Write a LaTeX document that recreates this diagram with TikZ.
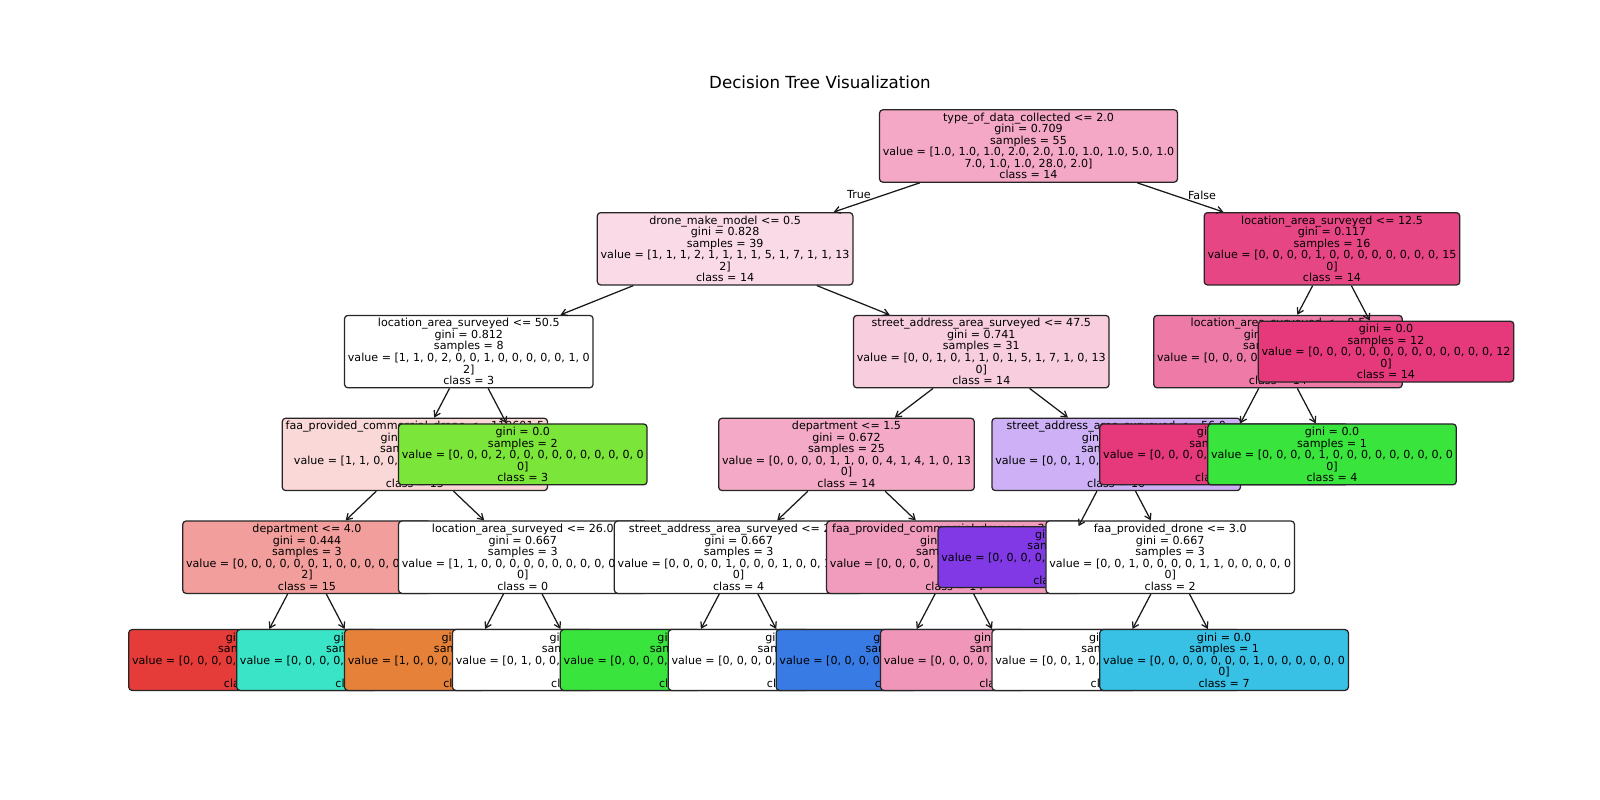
\documentclass[tikz,border=0pt]{standalone}
\usepackage{fontspec}
\setmainfont{DejaVu Sans}
\usetikzlibrary{arrows.meta}

\definecolor{cRoot}{HTML}{F4A8C5}
\definecolor{cDrone}{HTML}{FADAE6}
\definecolor{cLocA}{HTML}{E74684}
\definecolor{cStreetA}{HTML}{F8CDDE}
\definecolor{cLocB}{HTML}{EE7BA7}
\definecolor{cFourteen}{HTML}{E5397B}
\definecolor{cFaaA}{HTML}{FAD8D7}
\definecolor{cThree}{HTML}{7BE539}
\definecolor{cDeptA}{HTML}{F4AAC6}
\definecolor{cStreetB}{HTML}{CDB0F5}
\definecolor{cFour}{HTML}{39E53C}
\definecolor{cDeptB}{HTML}{F29E9C}
\definecolor{cFaaB}{HTML}{F29CBD}
\definecolor{cTen}{HTML}{8139E5}
\definecolor{cFifteen}{HTML}{E53C39}
\definecolor{cSix}{HTML}{39E5C6}
\definecolor{cZero}{HTML}{E58139}
\definecolor{cEight}{HTML}{397BE5}
\definecolor{cPink}{HTML}{F096B8}
\definecolor{cSeven}{HTML}{39C0E5}

\begin{document}
\begin{tikzpicture}[x=0.72pt, y=-0.72pt,
    treenode/.style={draw=black!85, line width=0.9pt, rounded corners=2.4pt, align=center,
      inner xsep=2.4pt, inner ysep=2.2pt, font=\fontsize{8}{8.3}\selectfont},
    edge/.style={line width=0.9pt, black!90, -{Straight Barb[length=4pt,width=5pt]}},
    every node/.style={font=\fontsize{8}{8.3}\selectfont}]
  \useasboundingbox (0,0) rectangle (1600,800);

  % Title
  \node[font=\fontsize{12}{14}\selectfont] (title) at (820,82) {Decision Tree Visualization};

  % Nodes
  \node[treenode, fill=cRoot] (root) at (1028.5,146) {type\_of\_data\_collected <= 2.0\\gini = 0.709\\samples = 55\\value = [1.0, 1.0, 1.0, 2.0, 2.0, 1.0, 1.0, 1.0, 5.0, 1.0\\7.0, 1.0, 1.0, 28.0, 2.0]\\class = 14};
  \node[treenode, fill=cDrone] (drone) at (725.1,248.8) {drone\_make\_model <= 0.5\\gini = 0.828\\samples = 39\\value = [1, 1, 1, 2, 1, 1, 1, 1, 5, 1, 7, 1, 1, 13\\2]\\class = 14};
  \node[treenode, fill=white] (locC) at (468.8,351.6) {location\_area\_surveyed <= 50.5\\gini = 0.812\\samples = 8\\value = [1, 1, 0, 2, 0, 0, 1, 0, 0, 0, 0, 0, 1, 0\\2]\\class = 3};
  \node[treenode, fill=cFaaA] (faaA) at (414.9,454.4) {faa\_provided\_commercial\_drone <= 119601.5\\gini = 0.778\\samples = 6\\value = [1, 1, 0, 0, 0, 0, 1, 0, 0, 0, 0, 0, 1, 0\\2]\\class = 15};
  \node[treenode, fill=cDeptB] (deptB) at (307,557.2) {department <= 4.0\\gini = 0.444\\samples = 3\\value = [0, 0, 0, 0, 0, 0, 1, 0, 0, 0, 0, 0, 0, 0\\2]\\class = 15};
  \node[treenode, fill=cFifteen] (leafA) at (253,660) {gini = 0.0\\samples = 2\\value = [0, 0, 0, 0, 0, 0, 0, 0, 0, 0, 0, 0, 0, 0\\2]\\class = 15};
  \node[treenode, fill=cSix] (leafB) at (360.9,660) {gini = 0.0\\samples = 1\\value = [0, 0, 0, 0, 0, 0, 1, 0, 0, 0, 0, 0, 0, 0\\0]\\class = 6};
  \node[treenode, fill=white] (locD) at (522.8,557.2) {location\_area\_surveyed <= 26.0\\gini = 0.667\\samples = 3\\value = [1, 1, 0, 0, 0, 0, 0, 0, 0, 0, 0, 0, 1, 0\\0]\\class = 0};
  \node[treenode, fill=cZero] (leafC) at (468.8,660) {gini = 0.0\\samples = 1\\value = [1, 0, 0, 0, 0, 0, 0, 0, 0, 0, 0, 0, 0, 0\\0]\\class = 0};
  \node[treenode, fill=white] (leafD) at (576.7,660) {gini = 0.5\\samples = 2\\value = [0, 1, 0, 0, 0, 0, 0, 0, 0, 0, 0, 0, 1, 0\\0]\\class = 1};
  \node[treenode, fill=cThree] (pureA) at (522.8,454.4) {gini = 0.0\\samples = 2\\value = [0, 0, 0, 2, 0, 0, 0, 0, 0, 0, 0, 0, 0, 0\\0]\\class = 3};
  \node[treenode, fill=cStreetA] (streetA) at (981.3,351.6) {street\_address\_area\_surveyed <= 47.5\\gini = 0.741\\samples = 31\\value = [0, 0, 1, 0, 1, 1, 0, 1, 5, 1, 7, 1, 0, 13\\0]\\class = 14};
  \node[treenode, fill=cDeptA] (deptA) at (846.5,454.4) {department <= 1.5\\gini = 0.672\\samples = 25\\value = [0, 0, 0, 0, 1, 1, 0, 0, 4, 1, 4, 1, 0, 13\\0]\\class = 14};
  \node[treenode, fill=white] (streetC) at (738.6,557.2) {street\_address\_area\_surveyed <= 25.5\\gini = 0.667\\samples = 3\\value = [0, 0, 0, 0, 1, 0, 0, 0, 1, 0, 0, 1, 0, 0\\0]\\class = 4};
  \node[treenode, fill=cFour] (leafE) at (684.6,660) {gini = 0.0\\samples = 1\\value = [0, 0, 0, 0, 1, 0, 0, 0, 0, 0, 0, 0, 0, 0\\0]\\class = 4};
  \node[treenode, fill=white] (leafF) at (792.5,660) {gini = 0.5\\samples = 2\\value = [0, 0, 0, 0, 0, 0, 0, 0, 1, 0, 0, 1, 0, 0\\0]\\class = 8};
  \node[treenode, fill=cFaaB] (faaB) at (954.4,557.2) {faa\_provided\_commercial\_drone <= 3361.5\\gini = 0.595\\samples = 22\\value = [0, 0, 0, 0, 0, 1, 0, 0, 3, 1, 4, 0, 0, 13\\0]\\class = 14};
  \node[treenode, fill=cEight] (leafG) at (900.4,660) {gini = 0.0\\samples = 3\\value = [0, 0, 0, 0, 0, 0, 0, 0, 3, 0, 0, 0, 0, 0\\0]\\class = 8};
  \node[treenode, fill=cPink] (leafH) at (1008.3,660) {gini = 0.482\\samples = 19\\value = [0, 0, 0, 0, 0, 1, 0, 0, 0, 1, 4, 0, 0, 13\\0]\\class = 14};
  \node[treenode, fill=cStreetB] (streetB) at (1116.2,454.4) {street\_address\_area\_surveyed <= 56.0\\gini = 0.667\\samples = 6\\value = [0, 0, 1, 0, 0, 0, 0, 1, 1, 0, 3, 0, 0, 0\\0]\\class = 10};
  \node[treenode, fill=cTen] (pureB) at (1062.3,557.2) {gini = 0.0\\samples = 3\\value = [0, 0, 0, 0, 0, 0, 0, 0, 0, 0, 3, 0, 0, 0\\0]\\class = 10};
  \node[treenode, fill=white] (faaC) at (1170.2,557.2) {faa\_provided\_drone <= 3.0\\gini = 0.667\\samples = 3\\value = [0, 0, 1, 0, 0, 0, 0, 1, 1, 0, 0, 0, 0, 0\\0]\\class = 2};
  \node[treenode, fill=white] (leafI) at (1116.2,660) {gini = 0.5\\samples = 2\\value = [0, 0, 1, 0, 0, 0, 0, 0, 1, 0, 0, 0, 0, 0\\0]\\class = 2};
  \node[treenode, fill=cSeven] (leafJ) at (1224.1,660) {gini = 0.0\\samples = 1\\value = [0, 0, 0, 0, 0, 0, 0, 1, 0, 0, 0, 0, 0, 0\\0]\\class = 7};
  \node[treenode, fill=cLocA] (locA) at (1332,248.8) {location\_area\_surveyed <= 12.5\\gini = 0.117\\samples = 16\\value = [0, 0, 0, 0, 1, 0, 0, 0, 0, 0, 0, 0, 0, 15\\0]\\class = 14};
  \node[treenode, fill=cLocB] (locB) at (1278,351.6) {location\_area\_surveyed <= 9.5\\gini = 0.375\\samples = 4\\value = [0, 0, 0, 0, 1, 0, 0, 0, 0, 0, 0, 0, 0, 3\\0]\\class = 14};
  \node[treenode, fill=cFourteen] (pureC) at (1224.1,454.4) {gini = 0.0\\samples = 3\\value = [0, 0, 0, 0, 0, 0, 0, 0, 0, 0, 0, 0, 0, 3\\0]\\class = 14};
  \node[treenode, fill=cFour] (pureD) at (1332,454.4) {gini = 0.0\\samples = 1\\value = [0, 0, 0, 0, 1, 0, 0, 0, 0, 0, 0, 0, 0, 0\\0]\\class = 4};
  \node[treenode, fill=cFourteen] (pureE) at (1386,351.6) {gini = 0.0\\samples = 12\\value = [0, 0, 0, 0, 0, 0, 0, 0, 0, 0, 0, 0, 0, 12\\0]\\class = 14};

  % Branch labels
  \node (true) at (859,195) {True};
  \node (false) at (1202,195) {False};

  % Edges
  \foreach \a/\b in {root/drone, root/locA, drone/locC, drone/streetA, locC/faaA, locC/pureA,
      faaA/deptB, faaA/locD, deptB/leafA, deptB/leafB, locD/leafC, locD/leafD,
      streetA/deptA, streetA/streetB, deptA/streetC, deptA/faaB, streetC/leafE, streetC/leafF,
      faaB/leafG, faaB/leafH, streetB/pureB, streetB/faaC, faaC/leafI, faaC/leafJ,
      locA/locB, locA/pureE, locB/pureC, locB/pureD}
    \draw[edge] (\a) -- (\b);
\end{tikzpicture}
\end{document}
